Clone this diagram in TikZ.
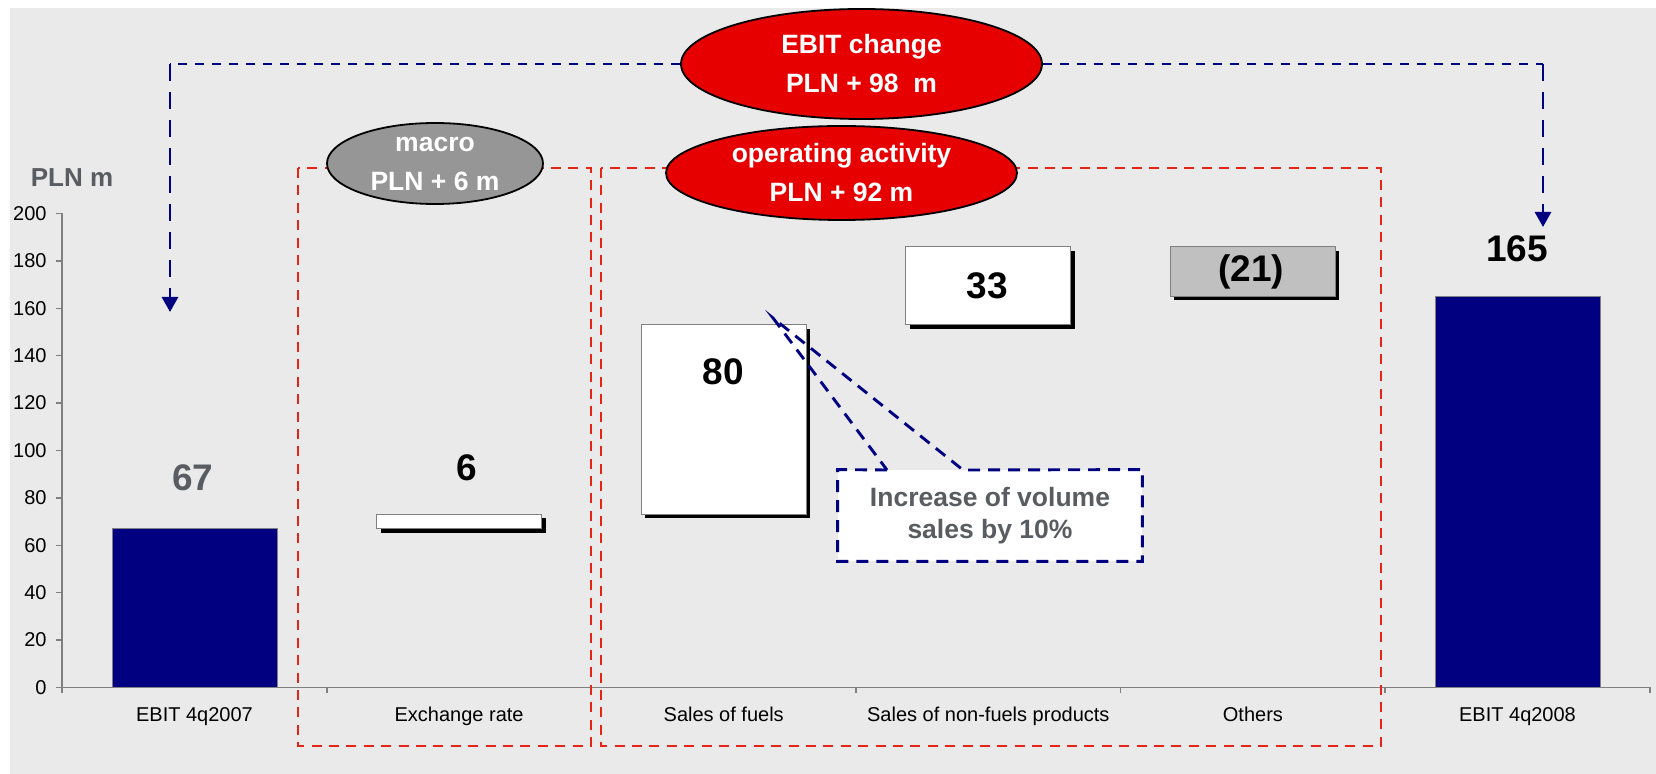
\documentclass[tikz,border=0pt]{standalone}
\usepackage{fontspec}
\setmainfont{Liberation Sans}
\usetikzlibrary{shapes.geometric,arrows.meta,shadows,positioning}
\definecolor{bggray}{HTML}{EAEAEA}
\definecolor{barnavy}{HTML}{000080}
\definecolor{ovalred}{HTML}{E60000}
\definecolor{ovalgray}{HTML}{969696}
\definecolor{framered}{HTML}{E32616}
\definecolor{negfill}{HTML}{C0C0C0}
\definecolor{edgegray}{HTML}{808080}
\definecolor{textgray}{HTML}{595D61}
\begin{document}
\begin{tikzpicture}[x=0.5pt, y=-0.5pt, node distance=132.3pt,
  oval/.style = {ellipse, draw=black, line width=0.9pt, text=white, inner sep=0pt, align=center, font=\fontsize{13.25}{19.5}\selectfont\bfseries},
  bluebar/.style = {fill=barnavy, draw=edgegray, line width=0.5pt},
  deltabox/.style = {fill=white, draw=edgegray, line width=0.6pt, drop shadow={shadow xshift=2pt, shadow yshift=-2pt, opacity=1, fill=black}},
  value/.style = {anchor=base, inner sep=0pt, font=\fontsize{18.5}{20}\selectfont\bfseries},
  catlabel/.style = {inner sep=0pt, text height=8pt, text depth=2pt, font=\fontsize{10}{12}\selectfont},
  ticklabel/.style = {anchor=east, inner sep=0pt, font=\fontsize{10}{12}\selectfont},
  axisline/.style = {draw=edgegray, line width=0.75pt},
  reddash/.style = {draw=framered, line width=1.45pt, dash pattern=on 5pt off 3.7pt},
  bluedash/.style = {draw=barnavy, line width=1.45pt, dash pattern=on 4.5pt off 4pt},
  bluevdash/.style = {draw=barnavy, line width=1.45pt, dash pattern=on 8.5pt off 5.5pt, -{Triangle[width=8pt,length=7.5pt]}},
  calldash/.style = {draw=barnavy, line width=1.45pt, dash pattern=on 6pt off 4pt}]
  \useasboundingbox (0,0) rectangle (1656,774);
  \fill[bggray] (10,8) rectangle (1656,774);

  % axes
  \draw[axisline] (62,213.5) -- (62,687.5) -- (1650,687.5);
  \foreach \v in {0,20,...,200} {
    \draw[axisline] (56,{687.5-2.37*\v}) -- (62,{687.5-2.37*\v});
    \node[ticklabel] (tick\v) at (47,{687.5-2.37*\v}) {\v};
  }
  \foreach \k in {0,...,6}
    \draw[axisline] ({62.2+264.6*\k},687.5) -- ({62.2+264.6*\k},693);
  \node[anchor=base, inner sep=0pt, text=textgray, font=\fontsize{13}{15}\selectfont\bfseries] (unit) at (72,187) {PLN m};

  % bars
  \draw[bluebar] (112,687.5) rectangle (277,528.7);
  \draw[deltabox] (376.6,528.7) rectangle (541.6,514.5);
  \draw[deltabox] (641.2,514.5) rectangle (806.2,324.9);
  \draw[deltabox] (905.8,324.9) rectangle (1070.8,246.7);
  \draw[deltabox, fill=negfill] (1170.4,246.7) rectangle (1335.4,296.5);
  \draw[bluebar] (1435,687.5) rectangle (1600,296.5);

  % category labels
  \node[catlabel] (cat0) at (194.5,715.5) {EBIT 4q2007};
  \node[catlabel] (cat1) [right of=cat0] {Exchange rate};
  \node[catlabel] (cat2) [right of=cat1] {Sales of fuels};
  \node[catlabel] (cat3) [right of=cat2] {Sales of non-fuels products};
  \node[catlabel] (cat4) [right of=cat3] {Others};
  \node[catlabel] (cat5) [right of=cat4] {EBIT 4q2008};

  % values
  \node[value, text=textgray] (v67) at (193,491) {67};
  \node[value] (v6) at (467,481) {6};
  \node[value] (v80) at (723,385) {80};
  \node[value] (v33) at (987,299) {33};
  \node[value] (v21) at (1251,282) {(21)};
  \node[value] (v165) at (1517,262) {165};

  % groups
  \draw[reddash] (298,168) rectangle (591,746);
  \draw[reddash] (601,168) rectangle (1381,746);

  % total change
  \node[oval, fill=ovalred, minimum width=180.5pt, minimum height=55pt] (ebit) at (861.5,64) {EBIT change\\PLN + 98\ \ m};
  \coordinate (lcorner) at (170,64);
  \coordinate (ltip) at (170,312);
  \coordinate (rcorner) at (1543,64);
  \coordinate (rtip) at (1543,227);
  \draw[bluedash] (ebit.west) -- (lcorner);
  \draw[bluevdash] (lcorner) -- (ltip);
  \draw[bluedash] (ebit.east) -- (rcorner);
  \draw[bluevdash] (rcorner) -- (rtip);

  \node[oval, fill=ovalred, minimum width=175.5pt, minimum height=47pt] (opact) at (841.5,173) {operating activity\\PLN + 92 m};
  \node[oval, fill=ovalgray, minimum width=108pt, minimum height=40.5pt] (macro) at (435,163.5) {macro\\PLN + 6 m};

  % callout
  \node[fill=white, minimum width=152pt, minimum height=45.5pt, inner sep=0pt, align=center, text=textgray, font=\fontsize{13.25}{16}\selectfont\bfseries] (callout) at (990,515.5) {Increase of volume\\sales by 10\%};
  \coordinate (ptip) at (773,318);
  \coordinate (pleft) at (887,470);
  \coordinate (pright) at (963,470);
  \draw[calldash] (pleft) -- (callout.north west) |- (callout.south east) -- (callout.north east) -- (pright) -- (ptip) -- cycle;
\end{tikzpicture}
\end{document}
